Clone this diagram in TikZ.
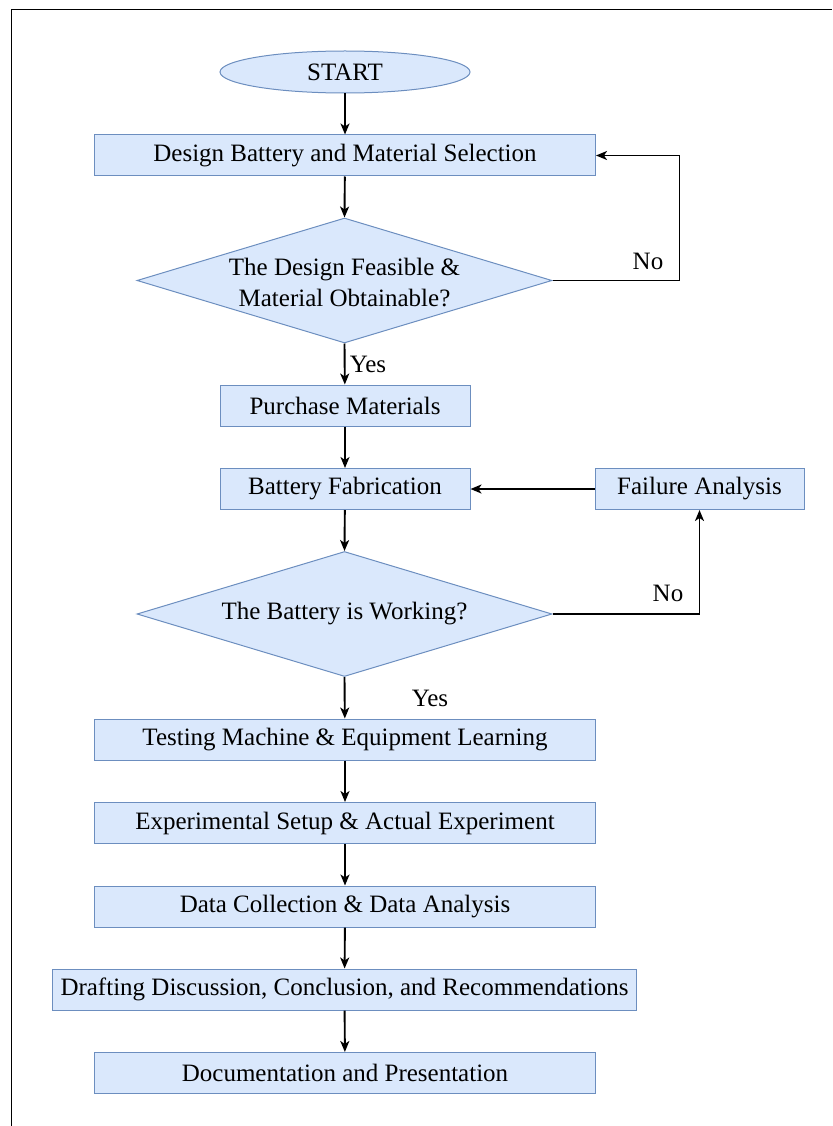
\documentclass[tikz,border=0pt]{standalone}
\usepackage{fontspec}
\setmainfont{Liberation Serif}
\usetikzlibrary{shapes.geometric,arrows.meta}
\definecolor{boxfill}{HTML}{DAE8FC}
\definecolor{boxline}{HTML}{6C8EBF}
\tikzset{
  every node/.style={font=\fontsize{25}{31}\selectfont},
  proc/.style={draw=boxline, fill=boxfill, line width=1pt, rectangle,
    minimum height=41pt, inner sep=0pt},
  wideproc/.style={proc, minimum width=501pt},
  shortproc/.style={proc, minimum width=250pt},
  terminal/.style={draw=boxline, fill=boxfill, line width=1pt, ellipse,
    minimum width=250pt, minimum height=42pt, inner sep=0pt},
  decision/.style={draw=boxline, fill=boxfill, line width=1pt, diamond,
    minimum width=415pt, minimum height=125pt, inner sep=0pt},
  arr/.style={draw=black, line width=1.9pt,
    -{Stealth[length=11pt, width=9pt, inset=3pt]}},
  lbl/.style={inner sep=0pt}
}
\begin{document}
\begin{tikzpicture}[x=1pt, y=-1pt]
\useasboundingbox (0,0) rectangle (832,1126);
% frame
\draw[line width=1.2pt] (11.5,1126) |- (832,9.5);

% nodes
\node[terminal] (start) at (345,72) {START};
\node[wideproc] (design) at (345,155.5) {Design Battery and Material Selection};
\node[decision] (dec1) at (344.5,280.5) {};
\node[lbl, align=center] (dec1txt) at (344.5,283) {The Design Feasible \&\\Material Obtainable?};
\node[shortproc] (purchase) at (345,405.5) {Purchase Materials};
\node[shortproc] (fab) at (345,489) {Battery Fabrication};
\node[proc, minimum width=209pt] (fail) at (699.5,489) {Failure Analysis};
\node[decision] (dec2) at (344.5,614) {};
\node[lbl] (dec2txt) at (344.5,614) {The Battery is Working?};
\node[wideproc] (test) at (345,739.5) {Testing Machine \& Equipment Learning};
\node[wideproc] (exp) at (345,823) {Experimental Setup \& Actual Experiment};
\node[wideproc] (data) at (345,906.5) {Data Collection \& Data Analysis};
\node[proc, minimum width=584pt] (draft) at (344.5,989.5) {Drafting Discussion, Conclusion, and Recommendations};
\node[wideproc] (doc) at (345,1073) {Documentation and Presentation};

% labels
\node[lbl] (yes1) at (368,364) {Yes};
\node[lbl] (no1) at (648,261) {No};
\node[lbl] (no2) at (668,593) {No};
\node[lbl] (yes2) at (430,698) {Yes};

% connectors
\draw[arr] (start) -- (design);
\draw[arr] (design) -- (dec1.north);
\draw[arr] (dec1.east) -- ++(127,0) |- (design.east);
\draw[arr] (dec1.south) -- (purchase);
\draw[arr] (purchase) -- (fab);
\draw[arr] (fail.west) -- (fab.east);
\draw[arr] (fab) -- (dec2.north);
\draw[arr] (dec2.east) -| (fail.south);
\draw[arr] (dec2.south) -- (test);
\draw[arr] (test) -- (exp);
\draw[arr] (exp) -- (data);
\draw[arr] (data) -- (draft);
\draw[arr] (draft) -- (doc);
\end{tikzpicture}
\end{document}
